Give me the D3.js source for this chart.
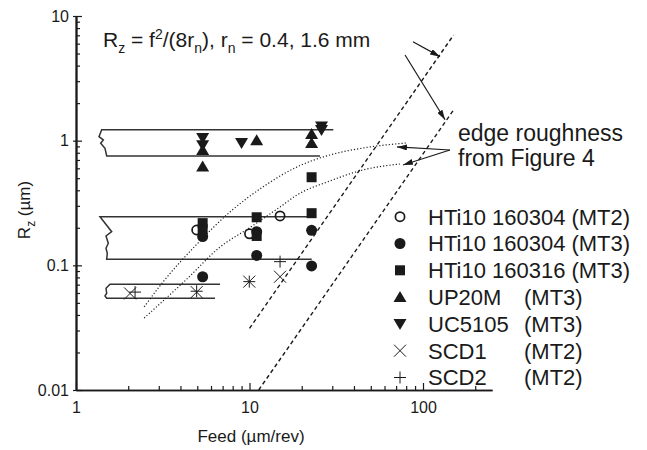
<!DOCTYPE html>
<html>
<head>
<meta charset="utf-8">
<script src="https://cdn.jsdelivr.net/npm/d3@7"></script>
<style>
body { margin: 0; background: #fff; }
svg { font-family: "Liberation Sans", Arial, sans-serif; }
</style>
</head>
<body>
<svg id="vis" width="647" height="450"></svg>
<script>
// feed (um/rev), Rz (um)
var htiMT2 = [[4.96, 0.192], [10, 0.179], [15, 0.249]];
var htiMT3 = [[5.37, 0.170], [5.37, 0.081], [11, 0.186], [11, 0.120], [22.8, 0.191], [22.8, 0.099]];
var hti316 = [[5.37, 0.218], [5.37, 0.195], [11, 0.243], [11, 0.172], [22.8, 0.509], [22.8, 0.262]];
var up20m = [[5.37, 0.84], [5.37, 0.62], [11, 1.01], [22.8, 1.13], [22.8, 0.96]];
var uc5105 = [[5.37, 1.05], [5.37, 0.92], [9, 0.96], [26, 1.30], [26, 1.22]];
var scd1 = [[2.05, 0.0595], [4.96, 0.061], [9.97, 0.074], [15, 0.081]];
var scd2 = [[2.19, 0.061], [4.96, 0.062], [9.97, 0.074], [15, 0.107]];

var legendNames = ["HTi10 160304", "HTi10 160304", "HTi10 160316", "UP20M", "UC5105", "SCD1", "SCD2"];
var legendMachines = ["(MT2)", "(MT3)", "(MT3)", "(MT3)", "(MT3)", "(MT2)", "(MT2)"];
var legendTypes = ["open", "circle", "square", "up", "down", "x", "plus"];

// ranges of the earlier data (solid bands with broken left end)
var band1 = [[30.41, 1.225], [1.406, 1.225], [1.357, 1.077], [1.437, 1.013], [1.388, 0.953], [1.469, 0.869], [1.503, 0.754], [25.49, 0.754]];
var band2 = [[23.54, 0.2457], [1.375, 0.2457], [1.606, 0.1862], [1.489, 0.172], [1.535, 0.1503], [1.489, 0.1371], [1.515, 0.125], [1.503, 0.1119], [22.83, 0.1119]];
var band3 = [[6.76, 0.0705], [1.57, 0.0705], [1.489, 0.0655], [1.503, 0.0597], [1.469, 0.0568], [1.503, 0.0544], [6.33, 0.0544]];

// theoretical Rz = f^2/(8 rn) for rn = 0.4 and 1.6 mm
var theory04 = [[10, 0.03125], [150, 7.03]];
var theory16 = [[11.3, 0.01], [150, 1.76]];

// edge roughness curves (from Figure 4)
var edgeA = [[2.47, 0.0464], [3.17, 0.0734], [4.98, 0.148], [7.72, 0.268], [11.97, 0.426], [18.8, 0.616], [29.1, 0.768], [45.1, 0.873], [79.8, 0.958]];
var edgeB = [[2.47, 0.0378], [4.36, 0.0778], [6.76, 0.140], [10, 0.20], [15, 0.294], [18.8, 0.367], [29.1, 0.475], [45.1, 0.582], [73.6, 0.650]];

var arrows = [
    [[87.5, 6.22], [125.3, 4.72]],
    [[78.8, 4.87], [134, 1.47]],
    [[143, 0.842], [70.8, 0.891]],
    [[143, 0.842], [76.7, 0.638]]
];

var xMajor = [1, 10, 100];
var xTickLabels = ["1", "10", "100"];
var yMajor = [0.01, 0.1, 1, 10];
var yTickLabels = ["0.01", "0.1", "1", "10"];

const LEFT = 76;
const DECADE_X = 173.5;
const TOP = 16;
const BOTTOM = 390;
const INK = "#1a1a1a";

var svg = d3.select("#vis");

var x = d3.scaleLog().domain([1, 250]).range([LEFT, LEFT + DECADE_X * Math.log10(250)]);
var y = d3.scaleLog().domain([0.01, 10]).range([BOTTOM, TOP]);

svg.append("defs").append("marker")
    .attr("id", "head")
    .attr("viewBox", "0 0 10 6")
    .attr("refX", 10).attr("refY", 3)
    .attr("markerWidth", 10).attr("markerHeight", 6)
    .attr("markerUnits", "userSpaceOnUse")
    .attr("orient", "auto")
    .append("path").attr("d", "M0,0 L10,3 L0,6 Z").attr("fill", INK);

// axes
var xMinor = x.ticks().filter(function(d) { return xMajor.indexOf(d) < 0; });
var yMinor = y.ticks().filter(function(d) { return yMajor.indexOf(d) < 0; });

function styleAxis(g) {
    g.selectAll("path.domain").attr("stroke", INK).attr("stroke-width", 1.6);
    g.selectAll(".tick line").attr("stroke", INK).attr("stroke-width", 1.2);
    g.selectAll("text").attr("font-size", "16px").attr("fill", INK)
        .attr("font-family", "Liberation Sans, Arial, sans-serif");
}

svg.append("g").attr("transform", "translate(0," + BOTTOM + ")")
    .call(d3.axisBottom(x).tickValues(xMinor).tickSize(-4).tickSizeOuter(0).tickFormat(""))
    .call(styleAxis);
svg.append("g").attr("transform", "translate(0," + BOTTOM + ")")
    .call(d3.axisBottom(x).tickValues(xMajor).tickSize(-7).tickSizeOuter(0).tickPadding(12)
        .tickFormat(function(d, i) { return xTickLabels[i]; }))
    .call(styleAxis);

svg.append("g").attr("transform", "translate(" + LEFT + ",0)")
    .call(d3.axisLeft(y).tickValues(yMinor).tickSize(-4).tickSizeOuter(0).tickFormat(""))
    .call(styleAxis);
svg.append("g").attr("transform", "translate(" + LEFT + ",0)")
    .call(d3.axisLeft(y).tickValues(yMajor).tickSize(-6).tickSizeOuter(0).tickFormat(""))
    .call(styleAxis);
svg.append("g").attr("transform", "translate(" + LEFT + ",0)")
    .call(d3.axisLeft(y).tickValues(yMajor).tickSize(3).tickSizeOuter(0).tickPadding(4)
        .tickFormat(function(d, i) { return yTickLabels[i]; }))
    .call(styleAxis);

// axis titles
svg.append("text")
    .attr("x", 251).attr("y", 442)
    .attr("text-anchor", "middle").attr("font-size", "17px").attr("fill", INK)
    .text("Feed (µm/rev)");

var yt = svg.append("text")
    .attr("transform", "translate(30,210) rotate(-90)")
    .attr("text-anchor", "middle").attr("font-size", "17px").attr("fill", INK);
yt.append("tspan").text("R");
yt.append("tspan").attr("font-size", "12px").attr("dy", 5).text("z");
yt.append("tspan").attr("dy", -5).text(" (µm)");

// lines
var line = d3.line().x(function(d) { return x(d[0]); }).y(function(d) { return y(d[1]); });
var smooth = d3.line().x(function(d) { return x(d[0]); }).y(function(d) { return y(d[1]); }).curve(d3.curveMonotoneX);

[band1, band2, band3].forEach(function(b) {
    svg.append("path").attr("d", line(b))
        .attr("fill", "none").attr("stroke", "#333").attr("stroke-width", 1.5);
});

[theory04, theory16].forEach(function(t) {
    svg.append("path").attr("d", line(t))
        .attr("fill", "none").attr("stroke", INK).attr("stroke-width", 1.4)
        .attr("stroke-dasharray", "4,3");
});

[edgeA, edgeB].forEach(function(c) {
    svg.append("path").attr("d", smooth(c))
        .attr("fill", "none").attr("stroke", "#222").attr("stroke-width", 1.2)
        .attr("stroke-dasharray", "1.2,2");
});

arrows.forEach(function(a) {
    svg.append("path").attr("d", line(a))
        .attr("fill", "none").attr("stroke", INK).attr("stroke-width", 1.2)
        .attr("marker-end", "url(#head)");
});

// markers
function drawMarker(g, type, px, py) {
    if (type === "open") {
        g.append("circle").attr("cx", px).attr("cy", py).attr("r", 4.6)
            .attr("fill", "none").attr("stroke", INK).attr("stroke-width", 1.7);
    } else if (type === "circle") {
        g.append("circle").attr("cx", px).attr("cy", py).attr("r", 5.5).attr("fill", INK);
    } else if (type === "square") {
        g.append("rect").attr("x", px - 5).attr("y", py - 5).attr("width", 10).attr("height", 10).attr("fill", INK);
    } else if (type === "up") {
        g.append("path").attr("d", "M" + px + "," + (py - 6) + "L" + (px + 6.5) + "," + (py + 5) + "L" + (px - 6.5) + "," + (py + 5) + "Z").attr("fill", INK);
    } else if (type === "down") {
        g.append("path").attr("d", "M" + px + "," + (py + 6) + "L" + (px + 6.5) + "," + (py - 5) + "L" + (px - 6.5) + "," + (py - 5) + "Z").attr("fill", INK);
    } else if (type === "x") {
        g.append("path").attr("d", "M" + (px - 6) + "," + (py - 6) + "L" + (px + 6) + "," + (py + 6) + "M" + (px - 6) + "," + (py + 6) + "L" + (px + 6) + "," + (py - 6))
            .attr("stroke", INK).attr("stroke-width", 1).attr("fill", "none");
    } else if (type === "plus") {
        g.append("path").attr("d", "M" + (px - 6) + "," + py + "L" + (px + 6) + "," + py + "M" + px + "," + (py - 6) + "L" + px + "," + (py + 6))
            .attr("stroke", INK).attr("stroke-width", 1).attr("fill", "none");
    }
}

var series = [htiMT2, htiMT3, hti316, up20m, uc5105, scd1, scd2];
var marks = svg.append("g");
series.forEach(function(s, i) {
    s.forEach(function(d) {
        drawMarker(marks, legendTypes[i], x(d[0]), y(d[1]));
    });
});

// formula annotation
var ft = svg.append("text").attr("x", 103).attr("y", 47).attr("font-size", "21px").attr("fill", INK);
ft.append("tspan").text("R");
ft.append("tspan").attr("font-size", "14px").attr("dy", 6).text("z");
ft.append("tspan").attr("dy", -6).text(" = f");
ft.append("tspan").attr("font-size", "14px").attr("dy", -8).text("2");
ft.append("tspan").attr("dy", 8).text("/(8r");
ft.append("tspan").attr("font-size", "14px").attr("dy", 6).text("n");
ft.append("tspan").attr("dy", -6).text("), r");
ft.append("tspan").attr("font-size", "14px").attr("dy", 6).text("n");
ft.append("tspan").attr("dy", -6).text(" = 0.4, 1.6 mm");

svg.append("text").attr("x", 458).attr("y", 141).attr("font-size", "23px").attr("fill", INK).text("edge roughness");
svg.append("text").attr("x", 458).attr("y", 166).attr("font-size", "23px").attr("fill", INK).text("from Figure 4");

// legend
var legend = svg.append("g");
legendNames.forEach(function(name, i) {
    var cy = 216.7 + i * 26.8;
    drawMarker(legend, legendTypes[i], 400, cy);
    var t = legend.append("text").attr("x", 428).attr("y", cy + 7.8)
        .attr("font-size", "22px").attr("fill", INK).text(name);
    var end = 428 + t.node().getComputedTextLength();
    legend.append("text").attr("x", Math.max(end + 6, 524)).attr("y", cy + 7.8)
        .attr("font-size", "22px").attr("fill", INK).text(legendMachines[i]);
});
</script>
</body>
</html>
